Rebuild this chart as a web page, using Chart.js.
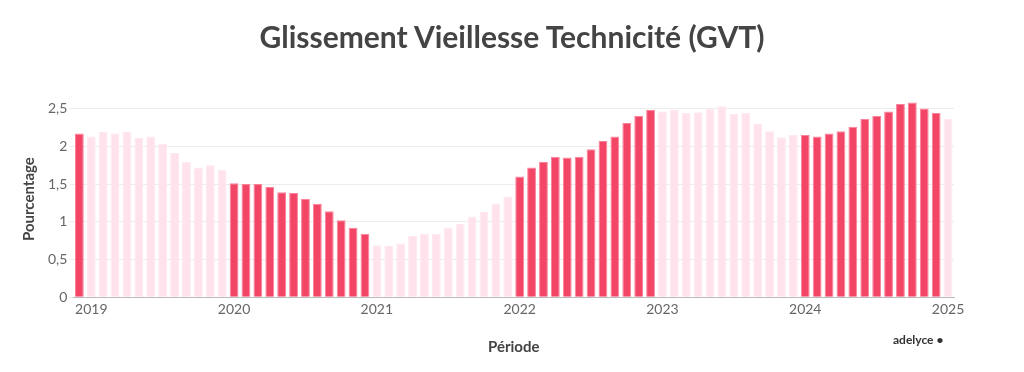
<!DOCTYPE html>
<html>
<head>
<meta charset="utf-8">
<script src="https://cdn.jsdelivr.net/npm/chart.js@4.4.1/dist/chart.umd.min.js"></script>
<style>
  html, body { margin: 0; padding: 0; background: #fff; }
  #wrap { position: relative; width: 1024px; height: 372px; }
  #title {
    position: absolute; left: 0; top: 18px; width: 1024px; text-align: center;
    font: bold 30px Lato, sans-serif; color: #444;
  }
  #credit {
    position: absolute; left: 893px; top: 332px;
    font: bold 12px Lato, sans-serif; color: #333;
  }
</style>
</head>
<body>
<div id="wrap">
  <canvas id="gvt" width="1024" height="372"></canvas>
  <div id="title">Glissement Vieillesse Technicité (GVT)</div>
  <div id="credit">adelyce •</div>
</div>
<script>
// ------------------------------------------- Data --------------------------------------------------

// monthly periods, Dec 2018 -> Jan 2025
const periods = ['2018-12',
  '2019-01','2019-02','2019-03','2019-04','2019-05','2019-06','2019-07','2019-08','2019-09','2019-10','2019-11','2019-12',
  '2020-01','2020-02','2020-03','2020-04','2020-05','2020-06','2020-07','2020-08','2020-09','2020-10','2020-11','2020-12',
  '2021-01','2021-02','2021-03','2021-04','2021-05','2021-06','2021-07','2021-08','2021-09','2021-10','2021-11','2021-12',
  '2022-01','2022-02','2022-03','2022-04','2022-05','2022-06','2022-07','2022-08','2022-09','2022-10','2022-11','2022-12',
  '2023-01','2023-02','2023-03','2023-04','2023-05','2023-06','2023-07','2023-08','2023-09','2023-10','2023-11','2023-12',
  '2024-01','2024-02','2024-03','2024-04','2024-05','2024-06','2024-07','2024-08','2024-09','2024-10','2024-11','2024-12',
  '2025-01'];

const gvt = [2.17,
  2.13, 2.19, 2.17, 2.19, 2.11, 2.13, 2.03, 1.91, 1.79, 1.72, 1.75, 1.69,
  1.51, 1.50, 1.50, 1.46, 1.39, 1.38, 1.30, 1.24, 1.14, 1.02, 0.92, 0.84,
  0.69, 0.68, 0.71, 0.81, 0.84, 0.84, 0.92, 0.97, 1.07, 1.13, 1.24, 1.33,
  1.60, 1.72, 1.79, 1.86, 1.85, 1.86, 1.96, 2.07, 2.13, 2.31, 2.40, 2.48,
  2.46, 2.48, 2.44, 2.45, 2.50, 2.53, 2.43, 2.44, 2.30, 2.20, 2.12, 2.15,
  2.15, 2.13, 2.17, 2.20, 2.26, 2.36, 2.40, 2.46, 2.56, 2.58, 2.50, 2.44,
  2.36];

const yTicks = [0, 0.5, 1, 1.5, 2, 2.5];

// even years dark, odd years light
const DARK = 'rgb(243, 70, 103)';
const LIGHT = 'rgb(255, 226, 236)';
const yearOf = p => +p.slice(0, 4);
const colors = periods.map(p => yearOf(p) % 2 === 0 ? DARK : LIGHT);
const borders = periods.map(p => yearOf(p) % 2 === 0 ? 'rgb(250, 130, 155)' : 'rgb(255, 232, 240)');

// ------------------------------------------- Chart.js --------------------------------------------------

const FONT = 'Lato, sans-serif';

new Chart(document.getElementById('gvt'), {
    type: 'bar',
    data: {
        labels: periods,
        datasets: [{
            label: 'GVT',
            data: gvt,
            backgroundColor: colors,
            borderColor: borders,
            borderWidth: 1,
            categoryPercentage: 1,
            barPercentage: 0.74
        }]
    },
    options: {
        responsive: false,
        animation: false,
        layout: { padding: { left: 16, right: 70, top: 101, bottom: 12 } },
        plugins: {
            legend: { display: false },
            tooltip: { enabled: false },
            title: { display: false }
        },
        scales: {
            x: {
                grid: { display: false, drawTicks: false },
                border: { display: true, color: '#bbb' },
                ticks: {
                    autoSkip: false,
                    maxRotation: 0,
                    color: '#666',
                    font: { family: FONT, size: 14 },
                    padding: 4,
                    callback: function(v, i) {
                        const p = periods[i];
                        return p.endsWith('-01') ? p.slice(0, 4) : '';
                    }
                },
                title: {
                    display: true,
                    text: 'Période',
                    color: '#444',
                    font: { family: FONT, size: 15, weight: 'bold' },
                    padding: { top: 16 }
                }
            },
            y: {
                min: 0,
                max: 2.6,
                afterBuildTicks: scale => {
                    scale.ticks = yTicks.map(v => ({ value: v }));
                },
                grid: { color: '#ececec', tickLength: 4 },
                border: { display: false },
                ticks: {
                    color: '#666',
                    font: { family: FONT, size: 14 },
                    padding: 2,
                    callback: v => String(v).replace('.', ',')
                },
                title: {
                    display: true,
                    text: 'Pourcentage',
                    color: '#444',
                    font: { family: FONT, size: 15, weight: 'bold' },
                    padding: { bottom: 8 }
                }
            }
        }
    }
});
</script>
</body>
</html>
